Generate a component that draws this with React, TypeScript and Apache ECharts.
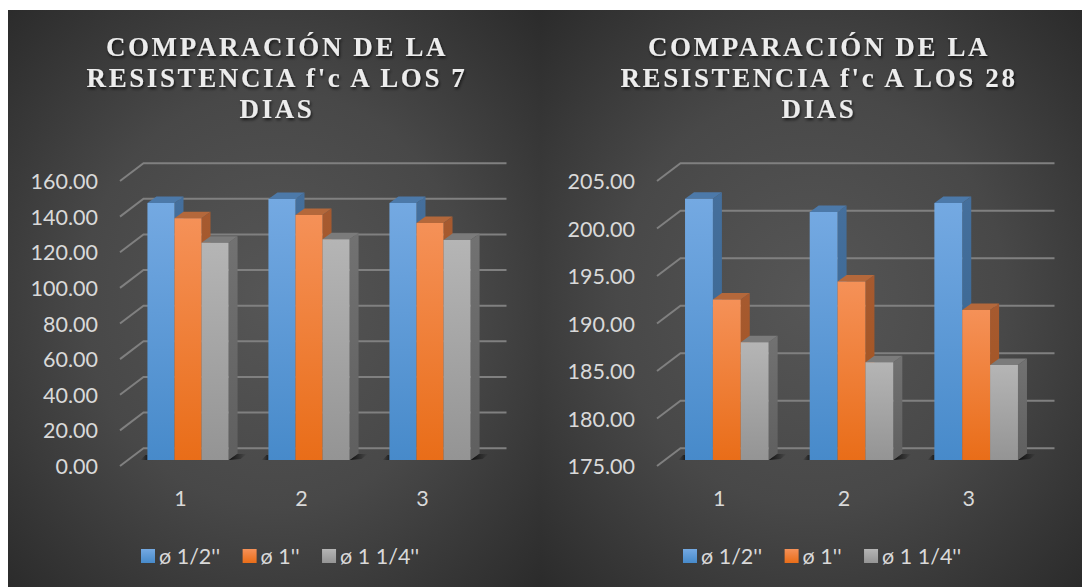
import React, { useEffect, useRef } from "react";
import * as echarts from "echarts";

const CATEGORIES = ["1", "2", "3"];
const SERIES_NAMES = ["ø 1/2''", "ø 1''", "ø 1 1/4''"];

const DAY7_HALF = [144.3, 146.5, 144.3];
const DAY7_ONE = [135.7, 137.5, 133];
const DAY7_ONE_QUARTER = [122, 124, 123.5];

const DAY28_HALF = [202.5, 201.1, 202.05];
const DAY28_ONE = [191.9, 193.8, 190.8];
const DAY28_ONE_QUARTER = [187.4, 185.3, 185.0];

const DAY7_TICKS = [0, 20, 40, 60, 80, 100, 120, 140, 160];
const DAY28_TICKS = [175, 180, 185, 190, 195, 200, 205];

const TITLE_7 = "COMPARACIÓN DE LA\nRESISTENCIA f'c A LOS 7\nDIAS";
const TITLE_28 = "COMPARACIÓN DE LA\nRESISTENCIA f'c A LOS 28\nDIAS";

// Colours of each bar's faces: front gradient, top and side.
const FACES = [
  { hi: "#74a9e2", lo: "#478aca", top: "#4c79a9", sideHi: "#456f9c", sideLo: "#35648f" },
  { hi: "#f59158", lo: "#e96d18", top: "#b4683b", sideHi: "#a65a30", sideLo: "#a3531c" },
  { hi: "#b5b5b5", lo: "#949494", top: "#7b7b7b", sideHi: "#727272", sideLo: "#5f5f5f" },
];

const WALL_DX = 23.5;
const WALL_DY = -17.8;
const BAR_DX = 7.5;
const BAR_DY = -6;
const DEPTH_DX = 9;
const DEPTH_DY = -6.5;
const BAR_SHARE = 0.2235;

const vertical = (a: string, b: string) =>
  new echarts.graphic.LinearGradient(0, 0, 0, 1, [
    { offset: 0, color: a },
    { offset: 1, color: b },
  ]);

// Draws one group's bar as a front, top and side face, with the floor shadow.
function barRenderer(seriesPos: number, baseline: number) {
  const face = FACES[seriesPos];
  return (_params: any, api: any) => {
    const cat = api.value(0);
    const [cx, yTopFront] = api.coord([cat, api.value(1)]);
    const [, yBaseFront] = api.coord([cat, baseline]);
    const w = api.size([1, 0])[0] * BAR_SHARE;
    const x0 = cx + BAR_DX + (seriesPos - 1.5) * w;
    const x1 = x0 + w;
    const yTop = yTopFront + BAR_DY;
    const yBase = yBaseFront + BAR_DY;
    const children: any[] = [];
    if (seriesPos === 0) {
      children.push({
        type: "polygon",
        shape: { points: [[x0, yBase], [x0 - 7, yBase], [x0 - 2, yBase - 5], [x0, yBase - 5]] },
        style: { fill: new echarts.graphic.LinearGradient(1, 0, 0, 0, [
          { offset: 0, color: "rgba(0,0,0,0.6)" },
          { offset: 1, color: "rgba(0,0,0,0)" },
        ]) },
      });
    }
    if (seriesPos === 2) {
      children.push({
        type: "polygon",
        shape: { points: [[x1, yBase], [x1 + 12, yBase - 1], [x1 + 18, yBase - 6], [x1 + 8, yBase - 6]] },
        style: { fill: new echarts.graphic.LinearGradient(0, 0, 1, 0, [
          { offset: 0, color: "rgba(0,0,0,0.8)" },
          { offset: 1, color: "rgba(0,0,0,0)" },
        ]) },
      });
    }
    children.push(
      {
        type: "polygon",
        shape: { points: [[x1, yTop], [x1 + DEPTH_DX, yTop + DEPTH_DY], [x1 + DEPTH_DX, yBase + DEPTH_DY], [x1, yBase]] },
        style: { fill: vertical(face.sideHi, face.sideLo) },
      },
      {
        type: "polygon",
        shape: { points: [[x0, yTop], [x0 + DEPTH_DX, yTop + DEPTH_DY], [x1 + DEPTH_DX, yTop + DEPTH_DY], [x1, yTop]] },
        style: { fill: face.top },
      },
      {
        type: "rect",
        shape: { x: x0, y: yTop, width: w, height: yBase - yTop },
        style: { fill: vertical(face.hi, face.lo) },
      },
    );
    return { type: "group", children };
  };
}

// Gridline: a slanted run on the side wall followed by the back-wall line.
function wallRenderer(_params: any, api: any) {
  const half = api.size([1, 0])[0] / 2;
  const [first, y] = api.coord([0, api.value(0)]);
  const [last] = api.coord([CATEGORIES.length - 1, api.value(0)]);
  const xStart = first - half;
  const xEnd = last + half;
  return {
    type: "polyline",
    shape: { points: [[xStart, y], [xStart + WALL_DX, y + WALL_DY], [xEnd + WALL_DX, y + WALL_DY]] },
    style: { stroke: "#808080", lineWidth: 2, fill: "none" },
  };
}

const panelFill = () =>
  new echarts.graphic.RadialGradient(0.5, 0.5, 0.72, [
    { offset: 0, color: "#565656" },
    { offset: 0.5, color: "#484848" },
    { offset: 1, color: "#2a2a2a" },
  ]);

const LABEL_COLOR = "#d9d9d9";
const LABEL_FONT = "Lato";

function chartBlock(
  index: number,
  left: number,
  width: number,
  ticks: number[],
  values: number[][],
) {
  const min = ticks[0];
  const max = ticks[ticks.length - 1];
  return {
    grid: { left, width, top: 181, height: 285 },
    xAxis: {
      gridIndex: index,
      type: "category",
      data: CATEGORIES,
      axisLine: { show: false },
      axisTick: { show: false },
      axisLabel: { color: LABEL_COLOR, fontFamily: LABEL_FONT, fontSize: 21.5, margin: 21 },
    },
    yAxis: {
      gridIndex: index,
      type: "value",
      min,
      max,
      interval: ticks[1] - ticks[0],
      axisLine: { show: false },
      axisTick: { show: false },
      splitLine: { show: false },
      axisLabel: {
        color: LABEL_COLOR,
        fontFamily: LABEL_FONT,
        fontSize: 21.5,
        margin: 22,
        formatter: (v: number) => v.toFixed(2),
      },
    },
    series: [
      {
        type: "custom",
        xAxisIndex: index,
        yAxisIndex: index,
        clip: false,
        silent: true,
        z: 1,
        renderItem: wallRenderer,
        encode: { y: 0 },
        data: ticks.map((t) => [t]),
      },
      ...values.map((row, i) => ({
        type: "custom",
        name: SERIES_NAMES[i],
        xAxisIndex: index,
        yAxisIndex: index,
        clip: false,
        z: 2 + i,
        renderItem: barRenderer(i, min),
        encode: { x: 0, y: 1 },
        itemStyle: { color: vertical(FACES[i].hi, FACES[i].lo) },
        data: row.map((v, c) => [c, v]),
      })),
    ],
  };
}

export default function App() {
  const ref = useRef<HTMLDivElement>(null);

  useEffect(() => {
    const chart = echarts.init(ref.current!, null, { renderer: "svg" });
    const a = chartBlock(0, 120, 363, DAY7_TICKS, [DAY7_HALF, DAY7_ONE, DAY7_ONE_QUARTER]);
    const b = chartBlock(1, 657, 374, DAY28_TICKS, [DAY28_HALF, DAY28_ONE, DAY28_ONE_QUARTER]);

    const titleStyle = {
      color: "#ececec",
      fontFamily: "Liberation Serif",
      fontWeight: "bold" as const,
      fontSize: 27,
      lineHeight: 31,
      textShadowColor: "rgba(0,0,0,0.7)",
      textShadowBlur: 3,
      textShadowOffsetX: 1,
      textShadowOffsetY: 2,
    };
    const legendBase = {
      icon: "rect",
      itemWidth: 14,
      itemHeight: 14,
      itemGap: 22.5,
      top: 540,
      data: SERIES_NAMES,
      selectedMode: false,
      textStyle: { color: LABEL_COLOR, fontFamily: LABEL_FONT, fontSize: 21.5, padding: [0, 0, 0, -1] },
    };

    chart.setOption({
      animation: false,
      backgroundColor: "#ffffff",
      graphic: [
        { type: "rect", z: -10, shape: { x: 8, y: 10, width: 533, height: 577 }, style: { fill: panelFill() } },
        { type: "rect", z: -10, shape: { x: 541, y: 10, width: 541, height: 577 }, style: { fill: panelFill() } },
      ],
      title: [
        { text: TITLE_7, left: 272, top: 26, textAlign: "center", textStyle: titleStyle },
        { text: TITLE_28, left: 814, top: 26, textAlign: "center", textStyle: titleStyle },
      ],
      legend: [
        { ...legendBase, left: 136 },
        { ...legendBase, left: 678 },
      ],
      grid: [a.grid, b.grid],
      xAxis: [a.xAxis, b.xAxis],
      yAxis: [a.yAxis, b.yAxis],
      series: [...a.series, ...b.series],
    });

    // The title's wide tracking is only available on the rendered SVG text.
    ref.current!.querySelectorAll("text").forEach((t) => {
      if ((t.getAttribute("style") || "").includes("Liberation Serif")) {
        t.style.letterSpacing = "2.6px";
      }
    });

    return () => chart.dispose();
  }, []);

  return (
    <div
      ref={ref}
      style={{ position: "absolute", left: 0, top: 0, width: 1082, height: 587 }}
    />
  );
}
